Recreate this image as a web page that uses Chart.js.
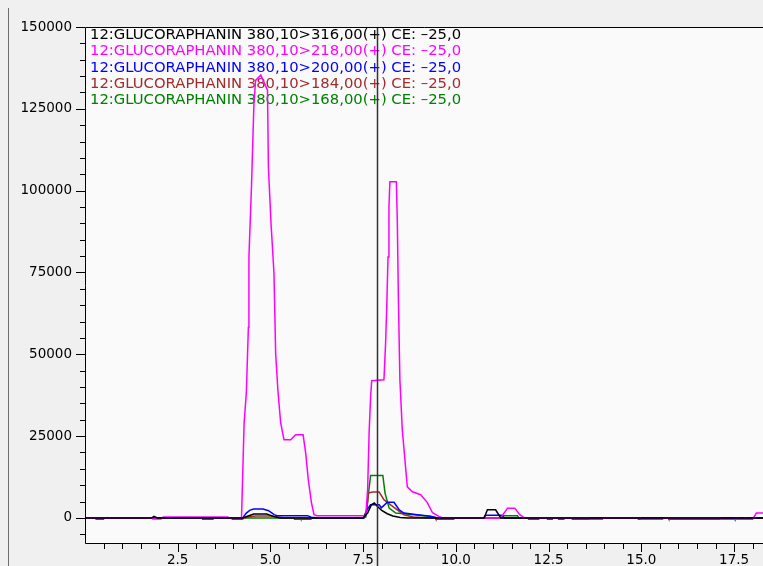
<!DOCTYPE html>
<html>
<head>
<meta charset="utf-8">
<script src="https://cdn.jsdelivr.net/npm/chart.js@4"></script>
<style>
  html, body { margin: 0; padding: 0; background: #f0f0f0; overflow: hidden; }
  #wrap { width: 763px; height: 566px; position: relative; }
</style>
</head>
<body>
<div id="wrap"><canvas id="c" width="763" height="566"></canvas></div>
<script>
// ---- Data (retention time in min, intensity in counts) ----
const seriesLabels = [
  "12:GLUCORAPHANIN 380,10>316,00(+) CE: \u201325,0",
  "12:GLUCORAPHANIN 380,10>218,00(+) CE: \u201325,0",
  "12:GLUCORAPHANIN 380,10>200,00(+) CE: \u201325,0",
  "12:GLUCORAPHANIN 380,10>184,00(+) CE: \u201325,0",
  "12:GLUCORAPHANIN 380,10>168,00(+) CE: \u201325,0"
];
const seriesColors = ["#000000", "#ff00ff", "#0000ff", "#a02c2c", "#008000"];

const blackTime = [0, 1.8, 1.86, 1.95, 4.25, 4.38, 4.55, 4.9, 5.1, 5.25, 7.5, 7.62, 7.72, 7.8, 7.88, 8.0, 8.15, 8.3, 8.5, 8.7, 10.76, 10.85, 11.07, 11.21, 18.3];
const blackIntensity = [0, 0, 500, 0, 0, 500, 1200, 1200, 400, 0, 0, 1500, 4000, 4600, 3600, 2300, 1300, 600, 150, 0, 0, 2500, 2500, 0, 0];

const magentaTime = [0, 1.8, 1.83, 2.05, 2.11, 3.84, 3.9, 4.22, 4.225, 4.29, 4.35, 4.405, 4.42, 4.49, 4.555, 4.6, 4.74, 4.92, 4.945, 5.015, 5.095, 5.14, 5.2, 5.275, 5.365, 5.545, 5.68, 5.88, 5.95, 6.02, 6.105, 6.175, 6.25, 7.49, 7.57, 7.62, 7.66, 7.70, 7.73, 8.06, 8.105, 8.135, 8.17, 8.195, 8.22, 8.395, 8.42, 8.45, 8.49, 8.555, 8.69, 8.83, 9.05, 9.23, 9.37, 9.54, 9.65, 11.2, 11.3, 11.39, 11.59, 11.72, 11.85, 13.6, 13.62, 13.95, 13.97, 14.98, 15.0, 15.57, 15.6, 17.12, 17.14, 18.0, 18.1, 18.3];
const magentaIntensity = [0, 0, -300, -300, 300, 300, 0, 0, 0, 29000, 38200, 58300, 79700, 101700, 126700, 133700, 135300, 130700, 107200, 90100, 74800, 50400, 39100, 29100, 23900, 23900, 25400, 25400, 19900, 11700, 4700, 1000, 700, 700, 700, 8600, 26000, 37000, 41900, 42200, 53500, 64200, 79700, 95000, 102700, 102700, 91000, 66600, 42200, 26900, 9500, 8000, 7100, 4700, 1600, 500, 0, 0, 1500, 3000, 3000, 1000, 0, 0, -400, -400, 0, 0, -400, -400, 0, 0, -400, -400, 1500, 1500];

const blueTime = [0, 4.25, 4.35, 4.45, 4.55, 4.8, 4.95, 5.1, 5.18, 6.0, 6.1, 6.3, 7.52, 7.6, 7.7, 7.93, 7.99, 8.15, 8.33, 8.47, 8.6, 8.96, 9.32, 9.5, 10.75, 10.8, 11.25, 11.3, 17.5, 17.52, 17.6, 17.62, 17.75, 17.77, 17.85, 17.87, 18.3];
const blueIntensity = [0, 0, 1500, 2400, 2700, 2700, 2200, 1000, 700, 700, 200, 0, 0, 2500, 4000, 4000, 3100, 4800, 4800, 2500, 1500, 1000, 500, 0, 0, 800, 800, 0, 0, -400, -400, 0, 0, -400, -400, 0, 0];

const brownTime = [0, 0.28, 0.3, 0.5, 0.52, 3.15, 3.17, 3.43, 3.45, 3.95, 3.97, 4.24, 4.3, 4.45, 4.6, 5.0, 5.2, 5.4, 5.63, 5.65, 5.77, 5.79, 7.5, 7.6, 7.64, 7.75, 7.93, 8.06, 8.24, 8.42, 8.6, 8.85, 9.3, 9.44, 9.46, 9.94, 9.96, 11.94, 11.96, 12.23, 12.25, 13.12, 13.14, 13.63, 13.65, 15.72, 15.74, 17.14, 17.16, 18.3];
const brownIntensity = [0, 0, -400, -400, 0, 0, -400, -400, 0, 0, -400, -400, 0, 400, 600, 600, 300, 0, 0, -400, -400, 0, 0, 2500, 7600, 7900, 7900, 5600, 4000, 2500, 1000, 300, 0, 0, -400, -400, 0, 0, -400, -400, 0, 0, -400, -400, 0, 0, -400, -400, 0, 0];

const greenTime = [0, 5.8, 5.82, 6.09, 6.11, 7.5, 7.57, 7.7, 8.03, 8.09, 8.2, 8.38, 8.6, 9.27, 9.5, 11.2, 11.25, 11.66, 11.7, 12.45, 12.47, 12.6, 12.62, 12.75, 12.77, 12.91, 12.93, 14.9, 14.92, 15.0, 15.02, 18.3];
const greenIntensity = [0, 0, -400, -400, 0, 0, 300, 13000, 13000, 7600, 3000, 1500, 1300, 500, 0, 0, 700, 700, 0, 0, -400, -400, 0, 0, -400, -400, 0, 0, -400, -400, 0, 0];

const xTickValues = [2.5, 5.0, 7.5, 10.0, 12.5, 15.0, 17.5];
const yTickValues = [0, 25000, 50000, 75000, 100000, 125000, 150000];
const xMin = 0, xMax = 18.28, yMin = -7650, yMax = 150000;
const cursorTime = 7.86;

// ---- Build datasets ----
const seriesTimes = [blackTime, magentaTime, blueTime, brownTime, greenTime];
const seriesValues = [blackIntensity, magentaIntensity, blueIntensity, brownIntensity, greenIntensity];
const datasets = seriesLabels.map((lab, i) => ({
  label: lab,
  data: seriesTimes[i].map((t, k) => ({ x: t, y: seriesValues[i][k] })),
  borderColor: seriesColors[i],
  backgroundColor: seriesColors[i],
  borderWidth: 1.5,
  pointRadius: 0,
  tension: 0,
  fill: false
}));

const FONT = "'DejaVu Sans', Tahoma, sans-serif";

const decor = {
  id: 'decor',
  beforeDraw(chart) {
    const { ctx, chartArea: a } = chart;
    ctx.save();
    ctx.fillStyle = '#f0f0f0';
    ctx.fillRect(0, 0, chart.width, chart.height);
    ctx.fillStyle = '#fafafa';
    ctx.fillRect(a.left, a.top, a.right - a.left, a.bottom - a.top);
    // window edge line
    ctx.strokeStyle = '#6e6e6e';
    ctx.lineWidth = 1;
    ctx.beginPath();
    ctx.moveTo(8.5, 8); ctx.lineTo(8.5, chart.height);
    ctx.stroke();
    ctx.restore();
  },
  beforeDatasetsDraw(chart) {
    const { ctx, chartArea: a } = chart;
    ctx.save();
    ctx.font = "14.8px " + FONT;
    ctx.textBaseline = 'middle';
    ctx.textAlign = 'left';
    seriesLabels.forEach((lab, i) => {
      ctx.fillStyle = seriesColors[i];
      ctx.fillText(lab, a.left + 5, 35 + i * 16.4);
    });
    ctx.restore();
  },
  afterDatasetsDraw(chart) {
    const { ctx, chartArea: a, scales } = chart;
    const xs = scales.x, ys = scales.y;
    ctx.save();
    // cursor line
    const cx = Math.round(xs.getPixelForValue(cursorTime)) + 0.5;
    ctx.strokeStyle = '#333333';
    ctx.lineWidth = 1.5;
    ctx.beginPath();
    ctx.moveTo(cx, a.top); ctx.lineTo(cx, chart.height);
    ctx.stroke();
    // frame
    ctx.strokeStyle = '#000000';
    ctx.lineWidth = 1;
    ctx.beginPath();
    ctx.moveTo(a.right, a.top + 0.5); ctx.lineTo(a.left + 0.5, a.top + 0.5);
    ctx.lineTo(a.left + 0.5, a.bottom + 0.5); ctx.lineTo(a.right, a.bottom + 0.5);
    ctx.stroke();
    // x ticks (every 0.5, major at 2.5)
    ctx.beginPath();
    for (let k = 1; k * 0.5 <= xMax; k++) {
      const v = k * 0.5;
      const px = Math.round(xs.getPixelForValue(v)) + 0.5;
      const len = (k % 5 === 0) ? 9 : 6;
      ctx.moveTo(px, a.bottom); ctx.lineTo(px, a.bottom + len);
    }
    // y ticks (every 5000, major at 25000)
    for (let v = -5000; v <= yMax; v += 5000) {
      const py = Math.round(ys.getPixelForValue(v)) + 0.5;
      const len = (v % 25000 === 0) ? 9 : 5;
      ctx.moveTo(a.left, py); ctx.lineTo(a.left - len, py);
    }
    ctx.stroke();
    ctx.restore();
  }
};

new Chart(document.getElementById('c'), {
  type: 'line',
  data: { datasets },
  options: {
    responsive: false,
    animation: false,
    layout: { padding: { top: 27, left: 0, right: 0, bottom: 0 } },
    plugins: { legend: { display: false }, tooltip: { enabled: false } },
    scales: {
      x: {
        type: 'linear',
        min: xMin, max: xMax,
        grid: { display: false, drawTicks: false },
        border: { display: false },
        afterFit(scale) { scale.height = 23; },
        afterBuildTicks(scale) { scale.ticks = xTickValues.map(v => ({ value: v })); },
        ticks: {
          autoSkip: false, maxRotation: 0, minRotation: 0,
          padding: 9,
          color: '#000',
          font: { family: FONT, size: 13.5 },
          callback: (v) => Number(v).toFixed(1)
        }
      },
      y: {
        type: 'linear',
        min: yMin, max: yMax,
        grid: { display: false, drawTicks: false },
        border: { display: false },
        afterFit(scale) { scale.width = 85; },
        afterBuildTicks(scale) { scale.ticks = yTickValues.map(v => ({ value: v })); },
        ticks: {
          padding: 13,
          color: '#000',
          font: { family: FONT, size: 13.5 },
          callback: (v) => String(v)
        }
      }
    }
  },
  plugins: [decor]
});
</script>
</body>
</html>
